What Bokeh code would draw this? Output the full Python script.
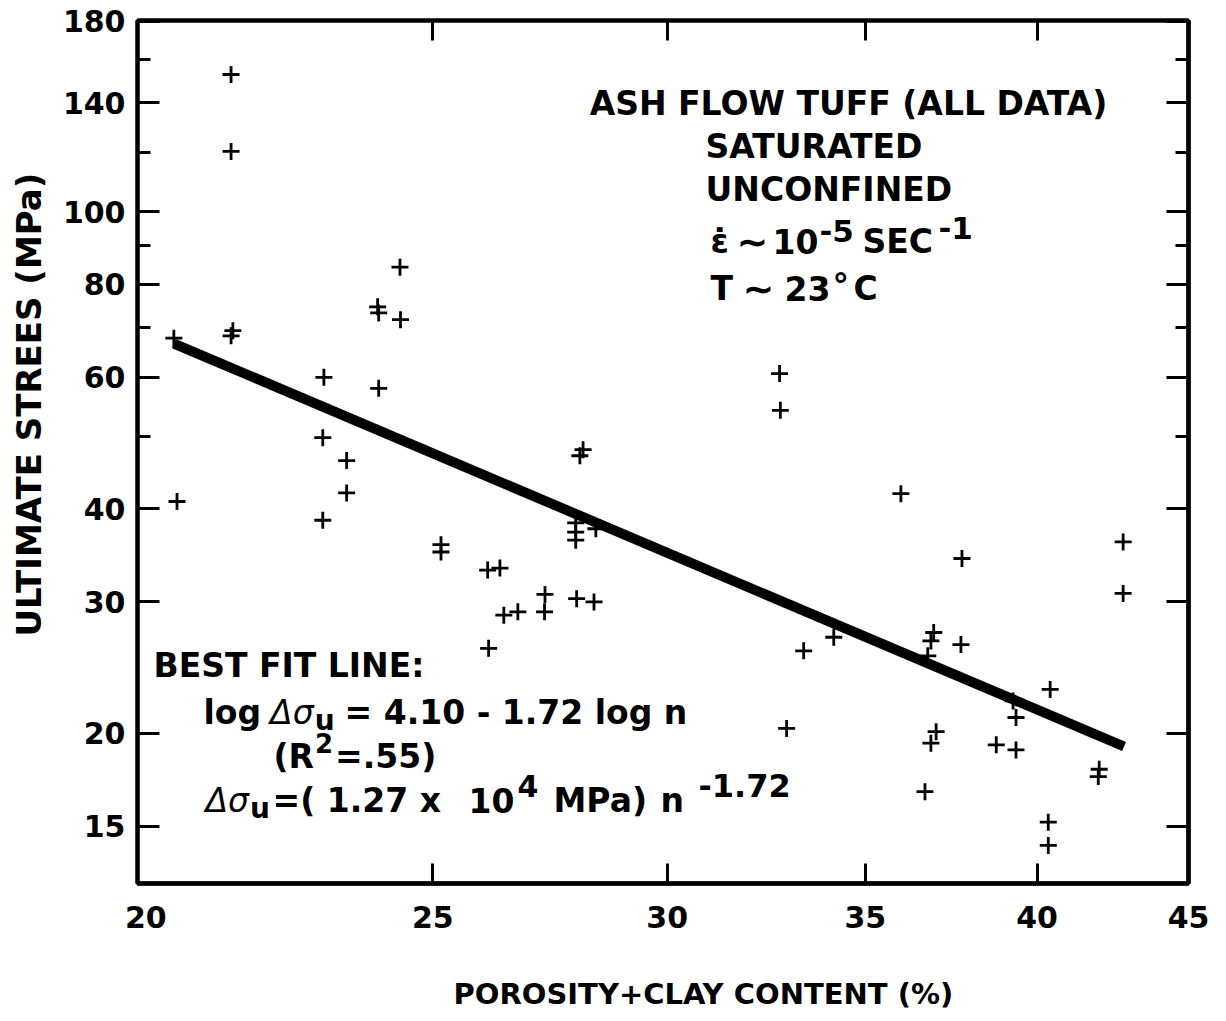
from math import log10
from bokeh.plotting import figure
from bokeh.models import FixedTicker, PrintfTickFormatter, LogAxis, Label
from bokeh.embed import file_html
from bokeh.resources import INLINE

# ---------------- data ----------------
porosity_clay = [20.44, 20.49, 21.37, 21.37, 21.37, 21.40, 22.97, 22.95, 22.95, 23.38,
                 23.38, 23.95, 23.97, 24.38, 23.97, 24.37, 25.16, 25.16, 26.09, 26.34,
                 26.11, 26.42, 26.71, 27.28, 27.27, 28.03, 28.10, 27.94, 27.94, 27.94,
                 28.38, 27.96, 28.34, 32.74, 32.76, 32.92, 33.36, 34.15, 35.98, 37.73,
                 42.77, 42.77, 36.91, 36.83, 36.74, 37.70, 40.41, 39.26, 39.35, 36.98,
                 36.83, 38.75, 39.35, 41.95, 41.98, 36.66, 40.35, 40.35]
ultimate_stress = [67.7, 40.9, 152.8, 120.5, 68.2, 69.3, 60.0, 49.8, 38.6, 46.4,
                   42.0, 74.6, 73.2, 71.7, 58.0, 84.3, 35.8, 35.0, 33.1, 33.3,
                   26.0, 28.8, 29.1, 30.7, 29.1, 47.1, 48.0, 38.3, 37.2, 36.3,
                   37.6, 30.3, 30.0, 60.7, 54.2, 20.3, 25.8, 26.9, 41.9, 34.3,
                   36.1, 30.8, 27.3, 26.6, 25.4, 26.3, 22.9, 22.1, 21.0, 20.1,
                   19.4, 19.3, 19.0, 17.5, 17.9, 16.7, 15.2, 14.15]
fit_x = [20.44, 42.8]
fit_y = [66.6, 19.2]

x_ticks = [20, 25, 30, 35, 40, 45]
x_tick_marks = [25, 30, 35, 40]
y_ticks = [15, 20, 30, 40, 60, 80, 100, 140, 180]
y_minor = [50, 70, 90, 120, 160]

x_title = "POROSITY+CLAY CONTENT (%)"
y_title = "ULTIMATE STREES (MPa)"

# ---------------- layout ----------------
X0, X1 = 19.87, 45.0
Y0, Y1 = 12.58, 180.5
W, H = 1215, 1020
BL, BR, BT, BB = 137, 27, 20, 137
FONT = "DejaVu Sans"
NB = "\u00a0"

p = figure(width=W, height=H, x_axis_type="log", y_axis_type="log",
           x_range=(X0, X1), y_range=(Y0, Y1), title=None,
           toolbar_location=None, output_backend="svg",
           min_border_left=BL, min_border_right=BR, min_border_top=BT, min_border_bottom=BB)
p.background_fill_color = "white"
p.border_fill_color = "white"
p.outline_line_color = "black"
p.outline_line_width = 4
p.xgrid.visible = False
p.ygrid.visible = False


def base_axis(ax):
    ax.axis_line_color = "black"
    ax.axis_line_width = 4
    ax.major_tick_line_color = "black"
    ax.minor_tick_line_color = "black"
    ax.major_tick_line_width = 3
    ax.minor_tick_line_width = 3
    ax.major_tick_out = 0
    ax.minor_tick_out = 0


def label_axis(ax):
    base_axis(ax)
    ax.formatter = PrintfTickFormatter(format="%d")
    ax.major_label_text_font = FONT
    ax.major_label_text_font_style = "bold"
    ax.major_label_text_font_size = "30px"
    ax.major_label_text_color = "black"
    ax.axis_label_text_font = FONT
    ax.axis_label_text_font_style = "bold"
    ax.axis_label_text_color = "black"


def mark_axis(marks, length):
    # an axis of zero thickness that only draws inward tick marks
    ax = LogAxis(ticker=FixedTicker(ticks=[], minor_ticks=marks))
    base_axis(ax)
    ax.minor_tick_in = length
    ax.major_label_standoff = 0
    return ax


# bottom axis: labels only; the tick marks come from a zero-size axis placed first
xb = p.xaxis[0]
label_axis(xb)
xb.ticker = FixedTicker(ticks=x_ticks, minor_ticks=[])
xb.major_tick_in = 0
xb.major_label_standoff = 22
xb.axis_label = NB * 8 + x_title
xb.axis_label_text_font_size = "29px"
xb.axis_label_standoff = 46
p.below = [mark_axis(x_tick_marks, 20), xb]

yl = p.yaxis[0]
label_axis(yl)
yl.ticker = FixedTicker(ticks=y_ticks, minor_ticks=y_minor)
yl.major_tick_in = 22
yl.minor_tick_in = 13
yl.major_label_standoff = 12
yl.axis_label = NB * 8 + y_title
yl.axis_label_text_font_size = "34px"
yl.axis_label_standoff = 11

p.add_layout(mark_axis(y_ticks, 22), "right")
p.add_layout(mark_axis(y_minor, 13), "right")
p.add_layout(mark_axis(x_tick_marks, 20), "above")

# ---------------- marks ----------------
p.line(fit_x, fit_y, line_color="black", line_width=10)
p.scatter(porosity_clay, ultimate_stress, marker="cross", size=17,
          line_color="black", line_width=2.8)

# ---------------- annotation text ----------------
FW, FH = W - BL - BR, H - BT - BB


def px2x(px):
    f = (px - BL) / FW
    return 10 ** (log10(X0) + f * (log10(X1) - log10(X0)))


def py2y(py):
    f = (py - BT) / FH
    return 10 ** (log10(Y1) - f * (log10(Y1) - log10(Y0)))


BOLD_W = {' ': .348, '(': .457, ')': .457, '+': .838, '-': .415, '.': .380, ':': .400,
          '=': .838, '~': .838, '∼': .838, '%': 1.002, '°': .500, 'ε': .58, '\u0307': 0,
          'A': .774, 'B': .762, 'C': .734, 'D': .830, 'E': .683, 'F': .683, 'I': .372,
          'L': .637, 'M': .995, 'N': .837, 'O': .850, 'P': .733, 'R': .770, 'S': .720,
          'T': .682, 'U': .812, 'W': 1.103, 'Y': .724, 'a': .675, 'g': .716, 'l': .343,
          'n': .712, 'o': .687, 'u': .712, 'x': .663}
for d in "0123456789":
    BOLD_W[d] = .696
ITAL_W = {'Δ': .684, 'σ': .635}


def tw(s, size, style):
    table = ITAL_W if style == "italic" else BOLD_W
    return sum(table.get(c, .65) for c in s) * size


def label(x_px, y_px, text, size, style="bold", align="left"):
    p.add_layout(Label(x=px2x(x_px), y=py2y(y_px), text=text, text_font=FONT,
                       text_font_size=f"{size}px", text_font_style=style,
                       text_align=align, text_baseline="alphabetic", text_color="black"))


def rich(left_px, base_px, segments):
    x = left_px
    for text, size, style, dy, gap in segments:
        x += gap
        label(x, base_px - dy, text, size, style)
        x += tw(text, size, style)


def placed(base_px, segments):
    for left, text, size, style, dy in segments:
        label(left, base_px - dy, text, size, style)


S = 33
label(848, 103, "ASH FLOW TUFF (ALL DATA)", S, align="center")
label(705, 146, "SATURATED", S)
label(705, 189, "UNCONFINED", S)
placed(241, [(710, "ε\u0307", S, "bold", 0), (736, "∼", 38, "bold", 0), (772, "10", S, "bold", 0),
             (819, "-5", 31, "bold", 11), (862, "SEC", S, "bold", 0), (938, "-1", 31, "bold", 14)])
placed(288, [(710, "T", S, "bold", 0), (742, "∼", 38, "bold", 0), (784, "23", S, "bold", 0),
             (832, "°", S, "bold", 3), (853, "C", S, "bold", 0)])

label(153, 665, "BEST FIT LINE:", S)
rich(203, 712, [("log", S, "bold", 0, 0), ("Δσ", S, "italic", 0, 9), ("u", 28, "bold", -8, 1),
                ("= 4.10 - 1.72 log n", S, "bold", 0, 10)])
rich(273, 756, [("(R", S, "bold", 0, 0), ("2", 26, "bold", 14, 1), ("=.55)", S, "bold", 0, 2)])
rich(205, 800, [("Δσ", S, "italic", 0, 0), ("u", 28, "bold", -8, 1)])
placed(800, [(272, "=( 1.27 x", S, "bold", 0), (468, "10", S, "bold", 0), (517, "4", 30, "bold", 15),
             (553, "MPa)", S, "bold", 0), (660, "n", S, "bold", 0), (698, "-1.72", 32, "bold", 15)])

open("out.html", "w").write(file_html(p, INLINE))
